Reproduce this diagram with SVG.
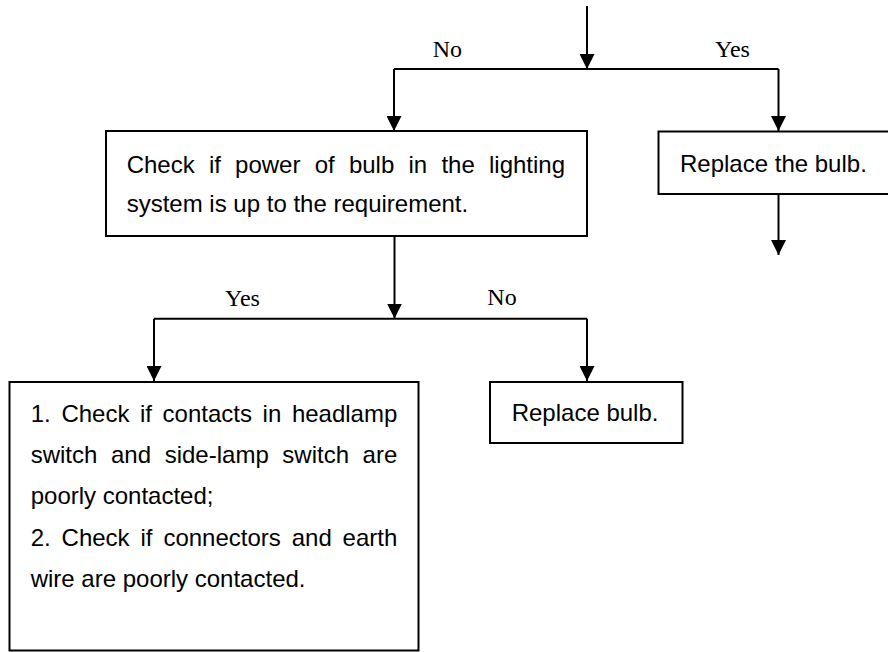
<svg xmlns="http://www.w3.org/2000/svg" width="888" height="652" viewBox="0 0 888 652">
  <style>
    .box { fill: #fff; stroke: #000; stroke-width: 2; }
    .t { font-family: "Liberation Sans", Arial, sans-serif; font-size: 24px; fill: #000; }
    .lbl { font-family: "Liberation Serif", "Times New Roman", serif; font-size: 24px; fill: #000; }
    .conn { fill: none; stroke: #000; stroke-width: 2; }
  </style>
  <defs>
    <marker id="arr" markerUnits="userSpaceOnUse" markerWidth="15" markerHeight="15" viewBox="0 0 15 15" refX="15" refY="7.5" orient="auto">
      <path d="M0,0 L15,7.5 L0,15 Z" fill="#000"/>
    </marker>
  </defs>
  <rect width="888" height="652" fill="#fff"/>

  <g id="connectors">
    <path class="conn" d="M587,6 V69" marker-end="url(#arr)"/>
    <path class="conn" d="M394,69 H778.5"/>
    <path class="conn" d="M394,69 V131" marker-end="url(#arr)"/>
    <path class="conn" d="M778.5,69 V131" marker-end="url(#arr)"/>
    <path class="conn" d="M394.5,236 V318.5" marker-end="url(#arr)"/>
    <path class="conn" d="M154,318.7 H587"/>
    <path class="conn" d="M154,318.7 V381" marker-end="url(#arr)"/>
    <path class="conn" d="M587,318.7 V381" marker-end="url(#arr)"/>
    <path class="conn" d="M778.5,194 V255" marker-end="url(#arr)"/>
    <text class="lbl" x="432.7" y="57.3">No</text>
    <text class="lbl" x="715" y="57">Yes</text>
    <text class="lbl" x="225" y="306">Yes</text>
    <text class="lbl" x="487.3" y="305">No</text>
  </g>

  <g id="check-power">
    <rect class="box" x="106" y="131" width="481" height="105"/>
    <text class="t" y="173"><tspan x="126.7">Check</tspan><tspan x="208.9">if</tspan><tspan x="235.1">power</tspan><tspan x="314.7">of</tspan><tspan x="348.9">bulb</tspan><tspan x="408.5">in</tspan><tspan x="441.4">the</tspan><tspan x="489">lighting</tspan></text>
    <text class="t" x="126.7" y="212">system is up to the requirement.</text>
  </g>

  <g id="replace-the-bulb">
    <rect class="box" x="658.5" y="131.5" width="240" height="62.5"/>
    <text class="t" x="680" y="171.7">Replace the bulb.</text>
  </g>

  <g id="replace-bulb">
    <rect class="box" x="490" y="382" width="192.5" height="61"/>
    <text class="t" x="511.7" y="421">Replace bulb.</text>
  </g>

  <g id="check-contacts">
    <rect class="box" x="9.5" y="382" width="409" height="268.5"/>
    <text class="t" y="422"><tspan x="30.7">1.</tspan><tspan x="61.4">Check</tspan><tspan x="140">if</tspan><tspan x="162.6">contacts</tspan><tspan x="262.6">in</tspan><tspan x="291.9">headlamp</tspan></text>
    <text class="t" y="463"><tspan x="30.7">switch</tspan><tspan x="111">and</tspan><tspan x="164.7">side-lamp</tspan><tspan x="282.3">switch</tspan><tspan x="362.6">are</tspan></text>
    <text class="t" x="30.7" y="504">poorly contacted;</text>
    <text class="t" y="545.5"><tspan x="30.7">2.</tspan><tspan x="61.6">Check</tspan><tspan x="140.5">if</tspan><tspan x="163.4">connectors</tspan><tspan x="291.7">and</tspan><tspan x="342.6">earth</tspan></text>
    <text class="t" x="30.7" y="587">wire are poorly contacted.</text>
  </g>
</svg>
